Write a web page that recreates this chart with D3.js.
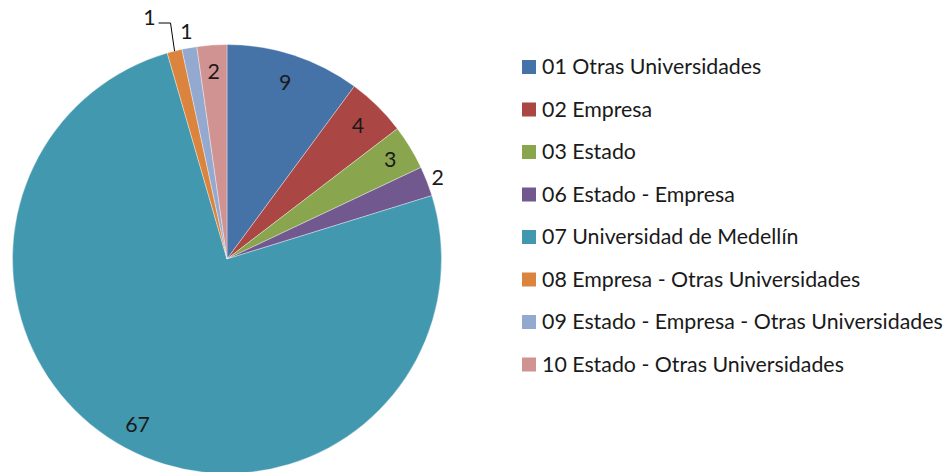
<!DOCTYPE html>
<html><head><meta charset="utf-8">
<script src="https://cdn.jsdelivr.net/npm/d3@7"></script>
<style>html,body{margin:0;padding:0;background:#fff;}svg{display:block;}</style>
</head><body>
<svg id="chart" width="950" height="472"></svg>
<script>
const categories = ["01 Otras Universidades","02 Empresa","03 Estado","06 Estado - Empresa","07 Universidad de Medellín","08 Empresa - Otras Universidades","09 Estado - Empresa - Otras Universidades","10 Estado - Otras Universidades"];
const values = [9,4,3,2,67,1,1,2];
const colors = ["#4572A7","#AA4643","#89A54E","#71588F","#4198AF","#DB843D","#93A9CF","#D19392"];

const FONT = "Lato, 'Open Sans', sans-serif";
const svg = d3.select("#chart");
const cx = 227, cy = 259, R = 214.5;

// fit font size so longest legend entry width matches reference
const probe = svg.append("text").attr("font-family", FONT).attr("font-size", 20).text(categories[6]);
const w20 = probe.node().getComputedTextLength();
probe.remove();
const fs = 20 * 401 / w20;

const pie = d3.pie().value(d => d).sort(null);
const arcs = pie(values);
const arc = d3.arc().innerRadius(0).outerRadius(R);
const g = svg.append("g").attr("transform", `translate(${cx},${cy})`);

g.selectAll("path").data(arcs).join("path")
  .attr("d", arc)
  .attr("fill", (d, i) => colors[i])
  .attr("stroke", "#fff").attr("stroke-width", 0.6).attr("stroke-opacity", 0.6);

// label placement radii (layout only)
const labelRadius = [186, 187, 191, 226, 188.5, null, 231, 187.5];
const polar = (a, r) => [Math.sin(a) * r, -Math.cos(a) * r];
arcs.forEach((d, i) => {
  const mid = (d.startAngle + d.endAngle) / 2;
  if (labelRadius[i] !== null) {
    const [x, y] = polar(mid, labelRadius[i]);
    g.append("text").attr("x", x).attr("y", y).attr("dy", "0.35em")
      .attr("text-anchor", "middle").attr("font-family", FONT).attr("font-size", fs)
      .attr("fill", "#1a1a1a").text(values[i]);
  } else {
    const [x0, y0] = polar(mid, R);
    const [x1, y1] = [x0 - 4, -236];
    g.append("path").attr("d", `M${x0},${y0}L${x1},${y1}L${x1 - 12},${y1}`)
      .attr("fill", "none").attr("stroke", "#000").attr("stroke-width", 1);
    g.append("text").attr("x", x1 - 15).attr("y", y1).attr("dy", "0.1em")
      .attr("text-anchor", "end").attr("font-family", FONT).attr("font-size", fs)
      .attr("fill", "#1a1a1a").text(values[i]);
  }
});

// legend
const legend = svg.append("g");
const y = d3.scalePoint().domain(categories).range([67, 364.5]);
const items = legend.selectAll("g").data(categories).join("g")
  .attr("transform", d => `translate(522,${y(d)})`);
items.append("rect").attr("x", 0).attr("y", -7).attr("width", 14).attr("height", 14)
  .attr("fill", (d, i) => colors[i]);
items.append("text").attr("x", 20).attr("dy", "0.35em")
  .attr("font-family", FONT).attr("font-size", fs).attr("fill", "#1a1a1a").text(d => d);
</script>
</body></html>
